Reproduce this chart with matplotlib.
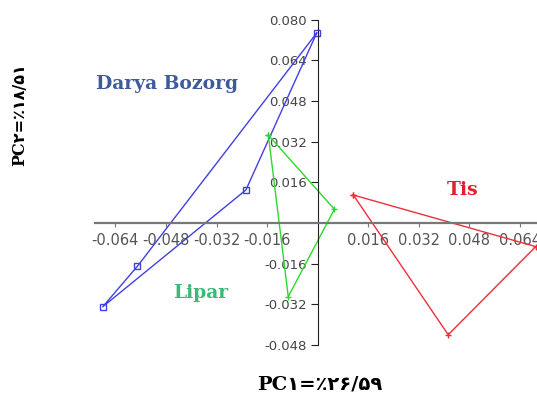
import numpy as np
import matplotlib
matplotlib.use("Agg")
import matplotlib.pyplot as plt

# PCA scores per locality
darya_x = [-0.0003, -0.0570, -0.0680, -0.0227, -0.0003]
darya_y = [0.0748, -0.0170, -0.0330, 0.0130, 0.0748]

lipar_x = [-0.0156, 0.0053, -0.0093, -0.0156]
lipar_y = [0.0346, 0.0054, -0.0290, 0.0346]

tis_x = [0.0113, 0.0690, 0.0413, 0.0113]
tis_y = [0.0110, -0.0093, -0.0440, 0.0110]

xticks = [-0.064, -0.048, -0.032, -0.016, 0.016, 0.032, 0.048, 0.064]
yticks = [-0.048, -0.032, -0.016, 0.016, 0.032, 0.048, 0.064, 0.080]

xlabel = "PC\u06f1=\u066a\u06f2\u06f6/\u06f5\u06f9"
ylabel = "PC\u06f2=\u066a\u06f1\u06f8/\u06f5\u06f1"

fig = plt.figure(figsize=(5.37, 4.01), dpi=100)
ax = fig.add_axes([0, 0, 1, 1])
ax.set_xlim(-0.1005, 0.0694)
ax.set_ylim(-0.0701, 0.0878)

ax.plot(darya_x, darya_y, color="#4040e4", lw=1.0)
ax.plot(darya_x[:-1], darya_y[:-1], ls="none", marker="s", ms=5,
        mfc="none", mec="#4040e4", mew=1.0)
ax.plot(lipar_x, lipar_y, color="#2ed82e", lw=1.0, marker="+", ms=4)
ax.plot(tis_x, tis_y, color="#ec3038", lw=1.0, marker="+", ms=4)

# axes through the origin
for side in ["top", "right"]:
    ax.spines[side].set_visible(False)
ax.spines["left"].set_position(("data", 0))
ax.spines["bottom"].set_position(("data", 0))
ax.spines["left"].set_bounds(-0.048, 0.080)
ax.spines["bottom"].set_bounds(-0.0705, 0.0694)
ax.spines["left"].set_color("#222222")
ax.spines["bottom"].set_color("#777777")
ax.spines["bottom"].set_linewidth(1.6)

ax.set_xticks(xticks)
ax.set_xticklabels([f"{v:.3f}" for v in xticks])
ax.set_yticks(yticks)
ax.set_yticklabels([f"{v:.3f}" for v in yticks])
ax.tick_params(axis="x", direction="out", length=3, color="#777777",
               labelsize=10.5, labelcolor="#555555", pad=4)
ax.tick_params(axis="y", direction="out", length=5, color="#222222",
               labelsize=9.5, labelcolor="#444444", pad=3)
ax.patch.set_alpha(0)

serif = ["DejaVu Serif"]
ax.text(-0.0477, 0.0547, "Darya Bozorg", color="#3d5a9c", fontsize=13.5,
        fontweight="bold", family=serif, ha="center", va="center")
ax.text(-0.0369, -0.0276, "Lipar", color="#3cb878", fontsize=13.5,
        fontweight="bold", family=serif, ha="center", va="center")
ax.text(0.0457, 0.0130, "Tis", color="#e0202a", fontsize=13.5,
        fontweight="bold", family=serif, ha="center", va="center")

fam = ["DejaVu Serif", "DejaVu Sans"]
fig.text(0.596, 0.040, xlabel, fontsize=14, fontweight="bold", family=fam,
         ha="center", va="center")
fig.text(0.037, 0.713, ylabel, fontsize=11.5, fontweight="bold", family=fam,
         ha="center", va="center", rotation=90)

fig.savefig("out.png", dpi=100)
